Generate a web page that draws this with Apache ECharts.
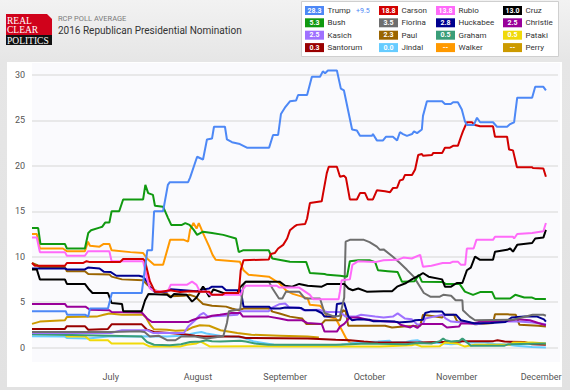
<!DOCTYPE html>
<html>
<head>
<meta charset="utf-8">
<script src="https://cdn.jsdelivr.net/npm/echarts@6/dist/echarts.min.js"></script>
<style>
html,body{margin:0;padding:0;}
body{width:570px;height:390px;background:linear-gradient(#f2f2f2 0px,#e6e6e6 60px,#e2e2e2 390px);overflow:hidden;}
#chart{width:570px;height:390px;}
</style>
</head>
<body>
<div id="chart"></div>
<script>
// x values: day offset from 1 June 2015 (0 = Jun 1)
const monthTicks = {30:'July', 61:'August', 92:'September', 122:'October', 153:'November', 183:'December'};
const yTicks = [0, 5, 10, 15, 20, 25, 30];

const candidates = ['Trump','Carson','Rubio','Cruz','Bush','Fiorina','Huckabee','Christie','Kasich','Paul','Graham','Pataki','Santorum','Jindal','Walker','Perry'];
const latest = ['28.3','18.8','13.8','13.0','5.3','3.5','2.8','2.5','2.5','2.3','0.5','0.5','0.3','0.0','--','--'];
const colors = ['#4d88f6','#d20000','#ff6af9','#000000','#109910','#6e6e6e','#00008f','#990099','#9f71ff','#9a6400','#3a9d78','#f0d90a','#990000','#66ccff','#ff9900','#cc9a00'];
const trumpSpread = '+9.5';

const trumpData = [[2,4.0],[14,4.0],[14.5,3.6],[21,3.6],[22,3.4],[22.6,4.3],[29,4.3],[30.4,6.0],[41,6.0],[43,10.7],[44.7,10.7],[45.4,15.0],[48.6,15.0],[50.3,17.9],[51,18.2],[57.5,18.2],[58.2,18.7],[60.7,21],[62.8,20.7],[64.2,22.9],[66,23],[66.7,24.3],[70.6,24.3],[71.3,22.9],[73.1,22.6],[75.9,22.4],[78.4,22],[86.3,22],[87.7,23.4],[89.5,23.4],[90.5,25.7],[91.9,26.4],[93.7,27.1],[95.9,27.2],[96.6,27.8],[99.8,27.8],[101.5,29.8],[104.4,29.8],[105.4,30.4],[106.2,30.2],[107.2,30.5],[110.4,30.5],[111.8,28.5],[112.9,28.3],[115.8,24.0],[117.5,23.9],[118.6,23.3],[122.9,23.3],[123.2,23.5],[124.6,22.8],[126.8,22.8],[127.8,23.2],[130.3,23.2],[131.8,22.8],[132.8,23.7],[133.9,23.5],[135.3,23.3],[137.1,23.5],[137.8,23.8],[138.9,23.6],[140.6,24.0],[141,25.5],[142.4,27.1],[147.8,27.1],[148.8,26.8],[150.9,26.8],[151.7,27.0],[153.4,27.0],[154.8,26.2],[155.9,24.9],[156.6,24.5],[159.1,24.5],[160.2,25.3],[161.3,24.8],[165.9,24.8],[167.3,24.3],[170.9,24.3],[172,24.6],[173.4,24.8],[174.5,27.5],[179.8,27.5],[180.9,28.7],[183.8,28.7],[184.7,28.3]];
const carsonData = [[2,9.3],[3,9.0],[13.7,9.0],[14.4,9.3],[20.1,9.3],[21.4,9.5],[22.6,9.4],[33.3,9.4],[34.4,9.75],[41.5,9.75],[42.2,9.5],[43.9,7.3],[45.7,6.15],[47.5,6.1],[51.1,6.3],[54.6,6.1],[58.2,6.2],[62.5,6.15],[65,6.15],[66,5.8],[69.6,5.8],[70.6,6.0],[75.5,6.0],[76.2,8.5],[77.2,9.6],[86.2,9.7],[86.9,10.3],[88.3,10.4],[89.5,10.9],[91.3,11.3],[92.7,12.0],[93.7,12.9],[95.2,13.3],[96.2,13.5],[99.1,13.6],[99.8,14.2],[100.8,15.9],[105,16.1],[105.4,16.8],[106.8,19.2],[107.5,19.9],[110.4,19.9],[111.5,18.8],[112.9,18.9],[113.6,18.7],[115,16.3],[117.5,16.3],[118.6,17.0],[120.4,17.0],[121.4,16.3],[123.2,16.3],[124.6,17.3],[127.5,17.2],[129.3,17.1],[130.3,17.55],[131.8,17.6],[132.8,18.4],[133.9,18.5],[134.6,19.0],[137.1,19.0],[138.2,19.6],[139.3,21.2],[140.6,21.3],[141,21.1],[144.2,21.2],[144.6,21.4],[147.8,21.4],[148.8,22.0],[150.6,22.0],[151.7,22.2],[153.4,22.2],[154.5,23.2],[155.2,23.8],[156.6,24.8],[158.4,24.8],[159.5,24.5],[161.3,24.35],[165.9,24.35],[166.6,23.2],[170.9,23.2],[171.6,21.8],[173,21.7],[174.4,19.85],[179.8,19.85],[180.1,19.75],[183.8,19.7],[184.7,18.8]];
const rubioData = [[2,12.1],[3.7,12.1],[4.8,10.5],[13.7,10.5],[14.4,10.1],[20.8,10.1],[21.9,10.6],[29.5,10.6],[30.3,9.5],[41.5,9.5],[42.9,7.6],[43.9,6.5],[45.7,6.2],[50.3,6.2],[51.3,6.9],[57,6.9],[58.9,7.25],[60.5,6.9],[61.7,6.15],[64,6.2],[65.3,5.8],[76.2,5.8],[76.8,6.3],[78,6.8],[89,6.8],[90,6.6],[97,6.6],[100.8,5.8],[102,5.3],[111,5.3],[111.5,6.2],[112.1,7.4],[115,7.5],[115.9,9.1],[118,9.5],[124,9.4],[127,9.6],[132,9.65],[134,9.9],[137,9.8],[140,10.2],[141,8.9],[144,9.0],[148,9.3],[150.6,9.3],[151.7,9.45],[153.4,9.45],[154.5,9.1],[156,9.1],[156.6,10.9],[159,10.9],[160,11.85],[165.9,11.85],[166.6,12.2],[173,12.2],[173.4,12.0],[174.5,12.5],[179.8,12.6],[183.8,12.8],[184.7,13.7]];
const cruzData = [[2,8.6],[3.7,8.6],[4.8,7.5],[13.7,7.5],[14.4,7.0],[20.8,7.0],[22,6.5],[23.5,6.0],[29,6.0],[30.3,4.9],[34,4.8],[34.4,4.0],[41,4.0],[42.2,5.2],[43.4,5.9],[50,5.8],[51.3,5.5],[52.5,5.9],[57,5.8],[58.9,5.05],[60.5,5.5],[61.7,6.15],[62.8,6.7],[63.5,6.4],[65,5.6],[66.5,6.4],[70,6.0],[75,6.0],[76.2,6.7],[78,7.25],[90,7.25],[92,6.8],[94.5,6.7],[97,7.0],[100,6.8],[105,6.7],[107,7.0],[113,7.0],[114.5,6.5],[116,6.3],[118,6.5],[121,6.15],[127,6.2],[130,6.2],[131.8,6.7],[135,7.1],[137,7.5],[140,8.0],[141,8.2],[143,7.8],[147.8,7.5],[148.8,6.7],[151,6.7],[153,7.1],[155,7.1],[156.6,8.5],[158,8.8],[159.5,10.0],[161.3,9.65],[165.9,9.65],[166.6,10.55],[170.9,10.75],[172,10.9],[173,10.55],[174.5,11.3],[179.8,11.5],[180.9,12.0],[183.8,12.1],[184.7,12.95]];
const bushData = [[2,13.15],[4.2,13.15],[5,11.4],[13.7,11.4],[14.4,10.9],[20.8,10.9],[22,12.6],[23,12.9],[26,13.2],[27,13.3],[28,13.75],[29.5,13.75],[30.3,15.0],[33,15.0],[34.4,16.3],[41.5,16.3],[42.3,17.9],[43.3,17.0],[45,16.8],[45.7,15.6],[48.6,15.5],[50.3,14.3],[51.5,13.5],[55.3,13.5],[56.5,13.7],[58,13.5],[59.5,12.95],[60.7,12.4],[62.8,12.75],[66,12.6],[70,12.4],[74.5,12.0],[75.5,10.5],[77,10.7],[86.2,10.7],[87.4,9.8],[93.7,9.45],[99.5,9.4],[100.8,8.2],[106,8.1],[107,8.0],[111.5,7.9],[114,7.8],[115,9.5],[118,9.6],[122,9.6],[124,9.4],[125,8.5],[128.5,8.4],[132,8.3],[133.5,7.25],[138,7.3],[139.5,8.0],[140.6,7.25],[148,7.2],[149,7.0],[154,7.0],[155.9,6.15],[158.8,5.8],[161.3,6.1],[165.6,6.1],[166.6,5.4],[172,5.4],[173.8,5.8],[177,5.5],[179.8,5.5],[180.9,5.35],[184.7,5.35]];
const fiorinaData = [[2,1.7],[30,1.7],[40,1.8],[42,1.7],[43.9,1.2],[47,1.3],[50,0.8],[53,0.8],[55,1.2],[60,1.2],[64,1.0],[70,1.25],[71.3,2.7],[72,4.0],[76,4.2],[77.2,6.9],[78,7.25],[86.2,7.25],[87.5,6.5],[89.8,5.4],[91,5.4],[92.3,6.15],[97,6.15],[99,5.4],[104.4,5.4],[106,3.8],[109.5,3.4],[111.5,3.5],[113,5.5],[113.5,11.65],[115,11.85],[120,11.85],[122,11.6],[124.6,11.1],[125.7,10.75],[127,10.8],[130.3,10.0],[132.8,9.3],[135.3,8.55],[137.7,7.8],[139.5,6.9],[141.3,6.0],[143.6,5.6],[147,5.6],[148.2,5.8],[151,5.7],[152.6,5.2],[155,5.2],[155.2,4.1],[157.6,3.4],[159.5,3.0],[173,3.05],[180,3.6],[183.8,3.6],[184.7,3.5]];
const huckabeeData = [[2,8.7],[13.7,8.7],[14.4,8.6],[20.8,8.6],[21.9,8.8],[26,8.7],[27.5,8.35],[30,8.3],[32,7.9],[40,7.9],[41.5,7.8],[43,7.2],[44,6.6],[45.7,6.1],[50,6.15],[51.3,6.4],[56,6.3],[60.5,6.2],[63,6.4],[65,6.5],[66,6.7],[69.6,6.7],[71,6.3],[76.2,6.3],[77.2,4.5],[86.2,4.5],[87,4.3],[90.2,4.3],[92,4.4],[97.6,4.35],[99,4.1],[103,4.1],[105,3.8],[106,3.4],[110,3.4],[110.4,4.8],[113,4.9],[114.5,3.4],[115.8,3.0],[118,3.1],[122,3.05],[123.2,2.9],[127,2.9],[131,2.85],[132.3,2.75],[137,2.85],[138.2,3.0],[141,3.05],[141.8,3.8],[143.6,3.95],[147.8,3.95],[148.8,3.6],[152.8,3.6],[154.5,3.0],[159.5,2.65],[165,2.7],[170.3,2.8],[172.5,3.3],[177,3.4],[181.6,3.4],[184,3.1],[184.7,2.85]];
const christieData = [[2,4.8],[13.7,4.8],[14.4,4.5],[21,4.5],[22.6,4.15],[29.5,4.1],[30.3,3.9],[41,3.85],[42.9,3.2],[44.6,2.8],[57.5,2.8],[58.9,3.0],[61.7,3.3],[64,3.3],[66,3.5],[68.8,3.6],[73,3.8],[76,3.8],[77,3.4],[86.2,3.4],[90,3.2],[93,3.0],[98,3.0],[99.8,2.7],[105,2.6],[106,1.75],[110.4,1.75],[111.5,2.3],[113,2.6],[115,3.3],[118,3.3],[122,3.0],[127,2.9],[132,2.8],[133,2.5],[136.5,2.2],[137.5,2.4],[139,2.15],[140.6,2.6],[147.8,2.6],[149.5,2.2],[153.8,2.3],[154.5,2.65],[159,2.65],[161.3,2.85],[170,2.9],[172.5,3.0],[174.5,3.1],[179,3.0],[182,2.7],[184.7,2.45]];
const kasichData = [[2,1.6],[30,1.6],[34,1.9],[43,1.9],[45,1.6],[56,1.6],[57.5,2.3],[60,3.0],[61.7,3.6],[63,3.8],[64.5,3.4],[70,3.5],[75,3.6],[76.2,4.0],[86.2,4.0],[87.4,4.4],[89.8,4.75],[92,4.85],[93.5,4.4],[97,4.4],[98.5,4.1],[104,4.15],[106.8,3.9],[111.5,3.9],[113.5,3.4],[117,3.4],[119,3.6],[124,3.4],[127,3.3],[130.3,3.4],[132,3.75],[134.5,3.2],[137,3.1],[139,2.5],[141,2.6],[141.8,3.2],[145,3.4],[148,3.6],[149,3.2],[151,2.85],[157,2.7],[160,2.55],[165,2.8],[167,2.85],[175,2.85],[180,2.75],[184.7,2.55]];
const paulData = [[2,9.3],[3.7,9.1],[4.8,8.85],[13.7,8.85],[14.4,8.4],[20.8,8.4],[22,8.1],[29.5,8.05],[30.3,7.8],[34,7.5],[41.5,7.4],[43,6.9],[45.4,6.3],[47,6.2],[50,5.9],[51.1,5.65],[56,5.7],[58,5.8],[60,5.6],[62.8,4.8],[66,4.6],[71,4.5],[73,4.3],[75.5,4.1],[77.2,4.3],[86.2,4.3],[87.5,3.95],[90,3.75],[93.7,3.4],[98,3.2],[99.5,2.6],[105,2.6],[106.2,3.0],[111.5,3.0],[112.5,4.1],[113.5,4.0],[114.4,2.4],[127.5,2.4],[130,2.2],[134,2.3],[140,2.4],[141,3.6],[147.8,3.3],[148.8,3.6],[152,3.6],[153.2,2.85],[157,2.8],[159.5,2.55],[165.9,2.7],[166.6,3.65],[171,3.65],[174,3.6],[175.3,2.5],[182,2.4],[184.7,2.3]];
const grahamData = [[2,1.45],[30,1.3],[41,1.2],[42.9,0.6],[45.4,0.3],[51,0.25],[55,0.35],[58.2,0.6],[62,0.65],[64,0.8],[66,0.7],[69,0.65],[76,0.75],[78,0.65],[82,0.4],[86,0.3],[110,0.3],[115,0.35],[121,0.45],[125,0.4],[135,0.35],[139,0.5],[144,0.45],[147,0.7],[148.2,1.0],[149,0.8],[151,0.65],[154,0.75],[155,1.0],[156.5,0.6],[158,0.2],[170,0.2],[171.2,0.35],[184.7,0.45]];
const patakiData = [[2,1.5],[13.7,1.5],[14.4,1.2],[21,1.2],[22.6,0.8],[29,0.8],[30.3,0.45],[41.5,0.45],[43.9,0.1],[54.6,0.1],[57,0.3],[60.5,0.45],[62,0.65],[65.3,0.1],[80,0.15],[90,0.1],[125.7,0.1],[137,0.25],[138.2,0.35],[140.6,0.1],[147,0.15],[148.8,0.55],[153,0.45],[155.9,0.1],[159.5,0.3],[172,0.3],[173,0.55],[180,0.55],[184.7,0.45]];
const santorumData = [[2,2.05],[13.7,2.05],[14.4,2.35],[20.8,2.35],[22,1.95],[29,2.05],[30.3,2.55],[41,2.55],[42.9,1.95],[45.4,1.7],[51,1.6],[56,1.45],[60,1.3],[63,1.2],[75.5,1.2],[78,1.05],[100,1.0],[110,0.85],[115,0.8],[120,0.65],[124,0.55],[140,0.55],[146,0.6],[153,0.6],[155,0.7],[166,0.7],[167.5,0.8],[170,0.65],[177,0.6],[179.8,0.35],[184.7,0.3]];
const jindalData = [[2,1.25],[13.7,1.2],[14.4,1.05],[22,1.0],[29,1.2],[45,1.25],[50,1.2],[55,1.3],[58,1.45],[60,1.6],[62.2,1.7],[64,1.55],[68.8,1.3],[72.4,1.2],[77,1.1],[81,0.65],[88,0.3],[100,0.25],[112,0.3],[115,0.45],[118,0.55],[125,0.65],[129,0.75],[130,0.55],[135,0.6],[137,0.75],[139,0.8],[141,0.55],[147,0.5],[148,0.45],[151,0.35],[154,0.45],[155.2,0.95],[156.5,0.55],[163,0.55],[167,0.35],[170,0.35],[174,0.2],[179.8,0.05],[184.7,0.0]];
const walkerData = [[2,12.5],[3.7,12.5],[4.8,10.9],[13,10.9],[14.4,10.6],[20.8,10.6],[21.9,11.65],[22.6,11.2],[26,11.1],[27.5,11.4],[29.5,11.4],[30.3,10.7],[37,10.5],[41.5,10.4],[42.9,9.8],[45.4,9.1],[48.6,9.1],[51.1,11.85],[56,11.85],[57.5,11.65],[58.2,12.95],[59.4,13.7],[60.5,13.1],[61.3,13.7],[62,13.2],[62.8,12.6],[65,11.1],[66.2,10.2],[67.3,9.65],[75.9,9.45],[77.2,8.5],[79,8.0],[86.2,7.8],[89.8,7.1],[92.3,6.3],[94.7,5.9],[98,5.6],[100,5.4],[100.8,4.7],[104.4,4.6],[105.6,4.2],[106.8,3.4],[110,3.2],[112,2.0],[113.7,1.0],[115,0.55],[125,0.5]];
const perryData = [[2,2.6],[4.8,2.85],[13.7,3.0],[14.4,3.35],[25,3.4],[27.5,3.6],[29.5,3.75],[34,3.6],[41.5,3.6],[42.5,3.3],[44,2.5],[45.4,2.0],[50,1.95],[53,1.85],[57,1.9],[58.9,2.2],[61.7,2.45],[65,2.4],[69,1.9],[75,1.6],[80,1.4],[90,1.3],[100,1.2],[104,1.1]];

const dataByName = {Trump:trumpData, Carson:carsonData, Rubio:rubioData, Cruz:cruzData, Bush:bushData, Fiorina:fiorinaData, Huckabee:huckabeeData, Christie:christieData, Kasich:kasichData, Paul:paulData, Graham:grahamData, Pataki:patakiData, Santorum:santorumData, Jindal:jindalData, Walker:walkerData, Perry:perryData};
const drawOrder = ['Perry','Walker','Jindal','Santorum','Pataki','Graham','Paul','Kasich','Christie','Huckabee','Fiorina','Bush','Cruz','Rubio','Carson','Trump'];

const chart = echarts.init(document.getElementById('chart'), null, {renderer:'svg', width:570, height:390});

const series = drawOrder.map(n => ({
  name: n, type: 'line', data: dataByName[n], showSymbol: false, symbol: 'none', clip: false,
  lineStyle: {width: 2, color: colors[candidates.indexOf(n)]},
  itemStyle: {color: colors[candidates.indexOf(n)]},
  animation: false, silent: true
}));

// header / legend graphics
const graphics = [
  {type:'rect', shape:{x:7,y:62,width:555,height:325}, style:{fill:'#ffffff'}, z:-10, silent:true},
  {type:'rect', shape:{x:32,y:63,width:528,height:299}, style:{fill:'#fafafd'}, z:-9, silent:true},
  // logo
  {type:'rect', shape:{x:6,y:14,width:46,height:22}, style:{fill:'#d0021b'}, silent:true},
  {type:'polygon', shape:{points:[[47,14],[52,14],[52,19]]}, style:{fill:'#f0f0f0'}, silent:true},
  {type:'rect', shape:{x:6,y:35,width:46,height:10}, style:{fill:'#111111'}, silent:true},
  {type:'text', x:7, y:16, style:{text:'REAL', fill:'#fff', font:'9.5px "Liberation Serif", serif'}, silent:true},
  {type:'text', x:7, y:25, style:{text:'CLEAR', fill:'#fff', font:'9.5px "Liberation Serif", serif'}, silent:true},
  {type:'text', x:7, y:35.5, style:{text:'POLITICS', fill:'#fff', font:'9.5px "Liberation Serif", serif'}, silent:true},
  {type:'text', x:58, y:14, style:{text:'RCP POLL AVERAGE', fill:'#7a7a7a', font:'7.5px Roboto, sans-serif'}, silent:true},
  {type:'text', x:58, y:25, style:{text:'2016 Republican Presidential Nomination', fill:'#333', font:'10px Roboto, sans-serif'}, silent:true},
  {type:'rect', shape:{x:301.5,y:1.5,width:257,height:55}, style:{fill:'#ffffff', stroke:'#cfcfcf', lineWidth:1}, silent:true}
];
const colX = [305, 379, 436, 503];
const rowY = [10.5, 22.8, 35.2, 47.6];
candidates.forEach((n, i) => {
  const c = i % 4, r = Math.floor(i / 4);
  const bx = colX[c], by = rowY[r];
  graphics.push({type:'rect', shape:{x:bx, y:by-4.5, width:19, height:9}, style:{fill:colors[i]}, silent:true});
  graphics.push({type:'text', x:bx+9.5, y:by, style:{text:latest[i], fill:'#fff', font:'bold 7px Roboto, sans-serif', align:'center', verticalAlign:'middle'}, silent:true});
  graphics.push({type:'text', x:bx+22.5, y:by, style:{text:n, fill:'#333', font:'8px Roboto, sans-serif', verticalAlign:'middle'}, silent:true});
});
graphics.push({type:'text', x:356, y:10.5, style:{text:trumpSpread, fill:'#4d88f6', font:'7px Roboto, sans-serif', verticalAlign:'middle'}, silent:true});

chart.setOption({
  animation: false,
  backgroundColor: 'transparent',
  grid: {left:32, right:12, top:75, bottom:42.5, containLabel:false},
  xAxis: {
    type:'value', min:2, max:189, interval:1,
    axisLine:{show:false}, axisTick:{show:false}, splitLine:{show:false},
    axisLabel:{
      formatter: v => monthTicks[v] || '',
      color:'#555', fontSize:9, fontFamily:'Roboto, sans-serif', margin:25,
      showMinLabel:true, showMaxLabel:true
    }
  },
  yAxis: {
    type:'value', min:yTicks[0], max:yTicks[yTicks.length-1], interval:5,
    axisLine:{show:false}, axisTick:{show:false},
    splitLine:{lineStyle:{color:'#e2e2e2', width:1.5}},
    axisLabel:{color:'#555', fontSize:9, fontFamily:'Roboto, sans-serif', margin:7}
  },
  graphic: graphics,
  series: series
});
</script>
</body>
</html>
